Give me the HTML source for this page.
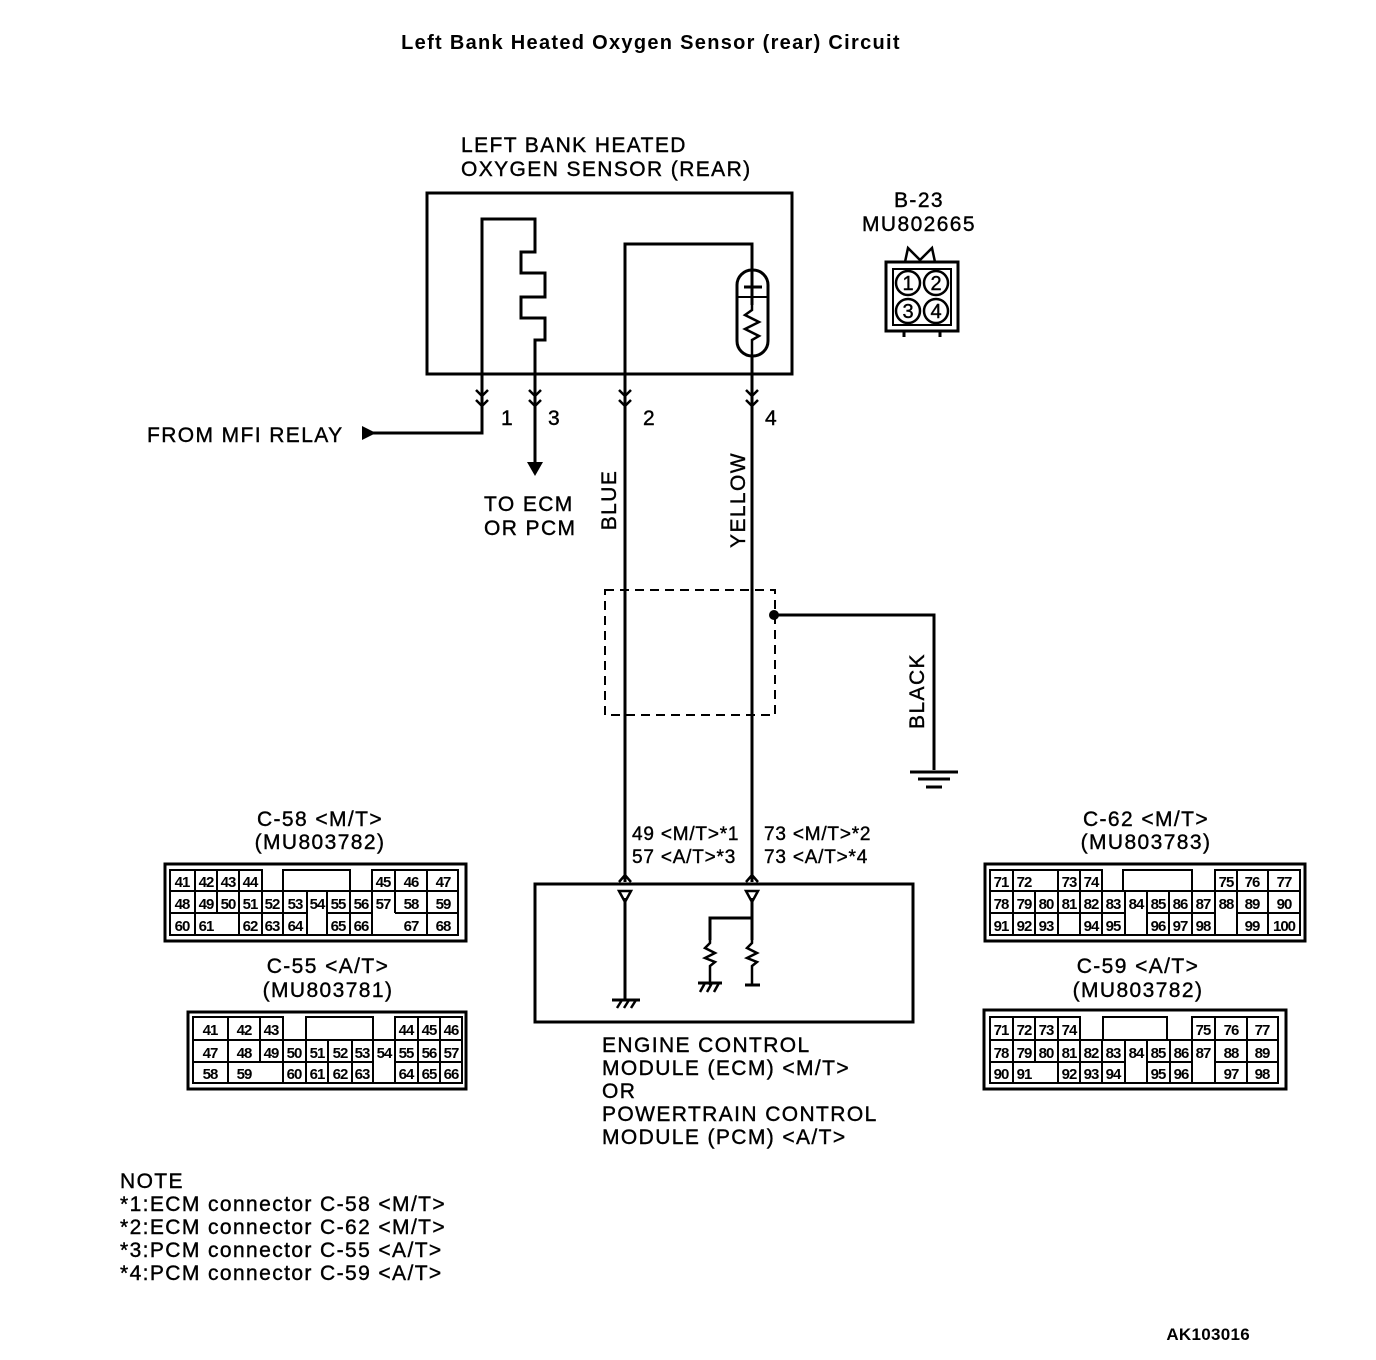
<!DOCTYPE html>
<html><head><meta charset="utf-8"><style>
html,body{margin:0;padding:0;background:#fff;}
svg{display:block;}
text{font-family:"Liberation Sans",sans-serif;fill:#000;}
.t{font-size:21px;letter-spacing:1.4px;stroke:#000;stroke-width:0.4px;}
.s{font-size:19px;letter-spacing:0.8px;stroke:#000;stroke-width:0.4px;}
</style></head><body>
<svg width="1376" height="1360" viewBox="0 0 1376 1360" xmlns="http://www.w3.org/2000/svg">
<g fill="none" stroke="#000" stroke-width="3">
<rect x="427" y="193" width="365" height="181"/>
<polyline points="370,433 482,433 482,219 535,219 535,252 521,252 521,273 545,273 545,297 521,297 521,318 545,318 545,340 535,340 535,462"/>
<polyline points="625,882 625,244 752,244 752,280"/>
<line x1="752" y1="355" x2="752" y2="882"/>
<rect x="737" y="270" width="31" height="86" rx="15"/>
<line x1="737" y1="297" x2="768" y2="297" stroke-width="2"/>
<line x1="744" y1="287" x2="762" y2="287"/>
<line x1="752" y1="280" x2="752" y2="305"/>
<polyline points="752,305 752,310 745,315 759,322 745,329 759,336 752,340 752,355" stroke-width="2.5"/>
<g stroke-width="2.5">
<polyline points="476,390 482,396 488,390"/><polyline points="476,400 482,406 488,400"/>
<polyline points="529,390 535,396 541,390"/><polyline points="529,400 535,406 541,400"/>
<polyline points="619,390 625,396 631,390"/><polyline points="619,400 625,406 631,400"/>
<polyline points="746,390 752,396 758,390"/><polyline points="746,400 752,406 758,400"/>
<polyline points="619,882 625,875 631,882"/><polyline points="746,882 752,875 758,882"/>
</g>
<rect x="605" y="590" width="170" height="125" stroke-width="2" stroke-dasharray="9,6"/>
<polyline points="775,615 934,615 934,770"/>
<line x1="910" y1="772" x2="958" y2="772"/>
<line x1="918" y1="779" x2="950" y2="779"/>
<line x1="926" y1="787" x2="942" y2="787"/>
<rect x="535" y="884" width="378" height="138"/>
<line x1="625" y1="898" x2="625" y2="1000"/>
<polyline points="752,898 752,940"/>
<polyline points="710,940 710,918 752,918"/>
<polyline points="710,940 710,943 705,948 715,953 705,958 715,962 710,966 710,985" stroke-width="2.5"/>
<polyline points="752,940 752,943 747,948 757,953 747,958 757,962 752,966 752,985" stroke-width="2.5"/>
<line x1="745" y1="985" x2="760" y2="985"/>
<line x1="612" y1="1000" x2="640" y2="1000"/>
<line x1="698" y1="983" x2="722" y2="983"/>
<rect x="886" y="262" width="72" height="69"/>
<rect x="893" y="269" width="58" height="56" stroke-width="2"/>
<polyline points="905,262 908,248 920,260 932,248 935,262" stroke-width="2.5"/>
<line x1="904" y1="331" x2="904" y2="337"/><line x1="940" y1="331" x2="940" y2="337"/>
<circle cx="908" cy="283" r="12" stroke-width="2.5"/><circle cx="936" cy="283" r="12" stroke-width="2.5"/>
<circle cx="908" cy="311" r="12" stroke-width="2.5"/><circle cx="936" cy="311" r="12" stroke-width="2.5"/>
</g>
<g fill="#000">
<polygon points="362,426 362,440 376,433"/>
<polygon points="527,462 543,462 535,476"/>
<polygon points="619,891 631,891 625,902" fill="none" stroke="#000" stroke-width="2.5"/>
<polygon points="746,891 758,891 752,902" fill="none" stroke="#000" stroke-width="2.5"/>
<circle cx="774" cy="615" r="5"/>
</g>
<g stroke="#000" stroke-width="2.5">
<line x1="617" y1="1008" x2="622" y2="1000"/><line x1="624" y1="1008" x2="629" y2="1000"/><line x1="631" y1="1008" x2="636" y2="1000"/>
<line x1="700" y1="992" x2="705" y2="983"/><line x1="707" y1="992" x2="712" y2="983"/><line x1="714" y1="992" x2="719" y2="983"/>
</g>

<text x="651" y="49" text-anchor="middle" style="font-size:20px;font-weight:bold;letter-spacing:1.3px">Left Bank Heated Oxygen Sensor (rear) Circuit</text>
<text class="t" x="461" y="152">LEFT BANK HEATED</text>
<text class="t" x="461" y="176">OXYGEN SENSOR (REAR)</text>
<text class="t" x="919" y="207" text-anchor="middle">B-23</text>
<text class="t" x="919" y="231" text-anchor="middle">MU802665</text>
<text x="908" y="290" text-anchor="middle" style="font-size:20px;stroke:#000;stroke-width:0.4px">1</text>
<text x="936" y="290" text-anchor="middle" style="font-size:20px;stroke:#000;stroke-width:0.4px">2</text>
<text x="908" y="318" text-anchor="middle" style="font-size:20px;stroke:#000;stroke-width:0.4px">3</text>
<text x="936" y="318" text-anchor="middle" style="font-size:20px;stroke:#000;stroke-width:0.4px">4</text>
<text class="t" x="501" y="425">1</text>
<text class="t" x="548" y="425">3</text>
<text class="t" x="643" y="425">2</text>
<text class="t" x="765" y="425">4</text>
<text class="t" x="147" y="442">FROM MFI RELAY</text>
<text class="t" x="484" y="511">TO ECM</text>
<text class="t" x="484" y="535">OR PCM</text>
<text class="t" transform="translate(616,500) rotate(-90)" text-anchor="middle">BLUE</text>
<text class="t" transform="translate(745,500) rotate(-90)" text-anchor="middle">YELLOW</text>
<text class="t" transform="translate(924,691) rotate(-90)" text-anchor="middle">BLACK</text>
<text class="s" x="632" y="840">49 &lt;M/T&gt;*1</text>
<text class="s" x="632" y="863">57 &lt;A/T&gt;*3</text>
<text class="s" x="764" y="840">73 &lt;M/T&gt;*2</text>
<text class="s" x="764" y="863">73 &lt;A/T&gt;*4</text>
<text class="t" x="602" y="1052">ENGINE CONTROL</text>
<text class="t" x="602" y="1075">MODULE (ECM) &lt;M/T&gt;</text>
<text class="t" x="602" y="1098">OR</text>
<text class="t" x="602" y="1121">POWERTRAIN CONTROL</text>
<text class="t" x="602" y="1144">MODULE (PCM) &lt;A/T&gt;</text>
<text class="t" x="320" y="826" text-anchor="middle">C-58 &lt;M/T&gt;</text>
<text class="t" x="320" y="849" text-anchor="middle">(MU803782)</text>
<text class="t" x="328" y="973" text-anchor="middle">C-55 &lt;A/T&gt;</text>
<text class="t" x="328" y="997" text-anchor="middle">(MU803781)</text>
<text class="t" x="1146" y="826" text-anchor="middle">C-62 &lt;M/T&gt;</text>
<text class="t" x="1146" y="849" text-anchor="middle">(MU803783)</text>
<text class="t" x="1138" y="973" text-anchor="middle">C-59 &lt;A/T&gt;</text>
<text class="t" x="1138" y="997" text-anchor="middle">(MU803782)</text>
<text class="t" x="120" y="1188">NOTE</text>
<text class="t" x="120" y="1211">*1:ECM connector C-58 &lt;M/T&gt;</text>
<text class="t" x="120" y="1234">*2:ECM connector C-62 &lt;M/T&gt;</text>
<text class="t" x="120" y="1257">*3:PCM connector C-55 &lt;A/T&gt;</text>
<text class="t" x="120" y="1280">*4:PCM connector C-59 &lt;A/T&gt;</text>
<text x="1250" y="1340" text-anchor="end" style="font-size:17px;font-weight:bold;letter-spacing:0.3px">AK103016</text>

<g fill="none" stroke="#000">
<rect x="165" y="864" width="301" height="77" stroke-width="3"/>
<rect x="188" y="1012" width="278" height="77" stroke-width="3"/>
<rect x="985" y="864" width="320" height="77" stroke-width="3"/>
<rect x="984" y="1010" width="302" height="79" stroke-width="3"/>
<g stroke-width="2">
<path d="M170 870H262V935H170Z M195 870V935 M217 870V913 M239 870V935 M170 891H262 M170 913H262
M262 891H372V935H262Z M283 891V935 M307 891V935 M327 891V935 M350 891V935 M262 913H307 M327 913H372
M283 870H350V891H283Z
M372 870H458V935H372Z M395 870V913 M427 870V935 M372 891H458 M395 913H458"/>
<path d="M193 1017H283V1083H193Z M228 1017V1083 M260 1017V1062 M193 1040H283 M193 1062H283
M283 1040H395V1083H283Z M306 1040V1083 M328 1040V1083 M352 1040V1083 M373 1040V1083 M283 1062H373
M306 1017H373V1040H306Z
M395 1017H462V1083H395Z M418 1017V1083 M440 1017V1083 M395 1040H462 M395 1062H462"/>
<path d="M990 870H1058V935H990Z M1013 870V935 M1035 891V935 M990 891H1058 M990 913H1058 M1035 870H1058
M1058 870H1102V891H1058Z M1080 870V891
M1058 891H1215V935H1058Z M1080 891V935 M1102 891V935 M1125 891V935 M1147 891V935 M1169 891V935 M1192 891V935 M1058 913H1125 M1147 913H1215
M1123 870H1192V891H1123Z
M1215 870H1300V935H1215Z M1237 870V935 M1268 870V935 M1215 891H1300 M1237 913H1300"/>
<path d="M990 1017H1080V1083H990Z M1013 1017V1083 M1035 1017V1062 M1058 1017V1083 M990 1040H1080 M990 1062H1080
M1080 1040H1192V1083H1080Z M1102 1040V1083 M1125 1040V1083 M1147 1040V1083 M1170 1040V1083 M1080 1062H1125 M1147 1062H1192
M1103 1017H1167V1040H1103Z
M1192 1017H1278V1083H1192Z M1215 1017V1083 M1247 1017V1083 M1192 1040H1278 M1215 1062H1278"/>
</g>
</g>
<g text-anchor="middle" font-size="15" font-weight="bold" letter-spacing="-1">
<text x="182" y="887">41</text><text x="206" y="887">42</text><text x="228" y="887">43</text><text x="250" y="887">44</text><text x="383" y="887">45</text><text x="411" y="887">46</text><text x="443" y="887">47</text>
<text x="182" y="909">48</text><text x="206" y="909">49</text><text x="228" y="909">50</text><text x="250" y="909">51</text><text x="272" y="909">52</text><text x="295" y="909">53</text><text x="317" y="909">54</text><text x="338" y="909">55</text><text x="361" y="909">56</text><text x="383" y="909">57</text><text x="411" y="909">58</text><text x="443" y="909">59</text>
<text x="182" y="931">60</text><text x="206" y="931">61</text><text x="250" y="931">62</text><text x="272" y="931">63</text><text x="295" y="931">64</text><text x="338" y="931">65</text><text x="361" y="931">66</text><text x="411" y="931">67</text><text x="443" y="931">68</text>
<text x="210" y="1035">41</text><text x="244" y="1035">42</text><text x="271" y="1035">43</text><text x="406" y="1035">44</text><text x="429" y="1035">45</text><text x="451" y="1035">46</text>
<text x="210" y="1058">47</text><text x="244" y="1058">48</text><text x="271" y="1058">49</text><text x="294" y="1058">50</text><text x="317" y="1058">51</text><text x="340" y="1058">52</text><text x="362" y="1058">53</text><text x="384" y="1058">54</text><text x="406" y="1058">55</text><text x="429" y="1058">56</text><text x="451" y="1058">57</text>
<text x="210" y="1079">58</text><text x="244" y="1079">59</text><text x="294" y="1079">60</text><text x="317" y="1079">61</text><text x="340" y="1079">62</text><text x="362" y="1079">63</text><text x="406" y="1079">64</text><text x="429" y="1079">65</text><text x="451" y="1079">66</text>
<text x="1001" y="887">71</text><text x="1024" y="887">72</text><text x="1069" y="887">73</text><text x="1091" y="887">74</text><text x="1226" y="887">75</text><text x="1252" y="887">76</text><text x="1284" y="887">77</text>
<text x="1001" y="909">78</text><text x="1024" y="909">79</text><text x="1046" y="909">80</text><text x="1069" y="909">81</text><text x="1091" y="909">82</text><text x="1113" y="909">83</text><text x="1136" y="909">84</text><text x="1158" y="909">85</text><text x="1180" y="909">86</text><text x="1203" y="909">87</text><text x="1226" y="909">88</text><text x="1252" y="909">89</text><text x="1284" y="909">90</text>
<text x="1001" y="931">91</text><text x="1024" y="931">92</text><text x="1046" y="931">93</text><text x="1091" y="931">94</text><text x="1113" y="931">95</text><text x="1158" y="931">96</text><text x="1180" y="931">97</text><text x="1203" y="931">98</text><text x="1252" y="931">99</text><text x="1284" y="931">100</text>
<text x="1001" y="1035">71</text><text x="1024" y="1035">72</text><text x="1046" y="1035">73</text><text x="1069" y="1035">74</text><text x="1203" y="1035">75</text><text x="1231" y="1035">76</text><text x="1262" y="1035">77</text>
<text x="1001" y="1058">78</text><text x="1024" y="1058">79</text><text x="1046" y="1058">80</text><text x="1069" y="1058">81</text><text x="1091" y="1058">82</text><text x="1113" y="1058">83</text><text x="1136" y="1058">84</text><text x="1158" y="1058">85</text><text x="1181" y="1058">86</text><text x="1203" y="1058">87</text><text x="1231" y="1058">88</text><text x="1262" y="1058">89</text>
<text x="1001" y="1079">90</text><text x="1024" y="1079">91</text><text x="1069" y="1079">92</text><text x="1091" y="1079">93</text><text x="1113" y="1079">94</text><text x="1158" y="1079">95</text><text x="1181" y="1079">96</text><text x="1231" y="1079">97</text><text x="1262" y="1079">98</text>
</g>
</svg>
</body></html>
